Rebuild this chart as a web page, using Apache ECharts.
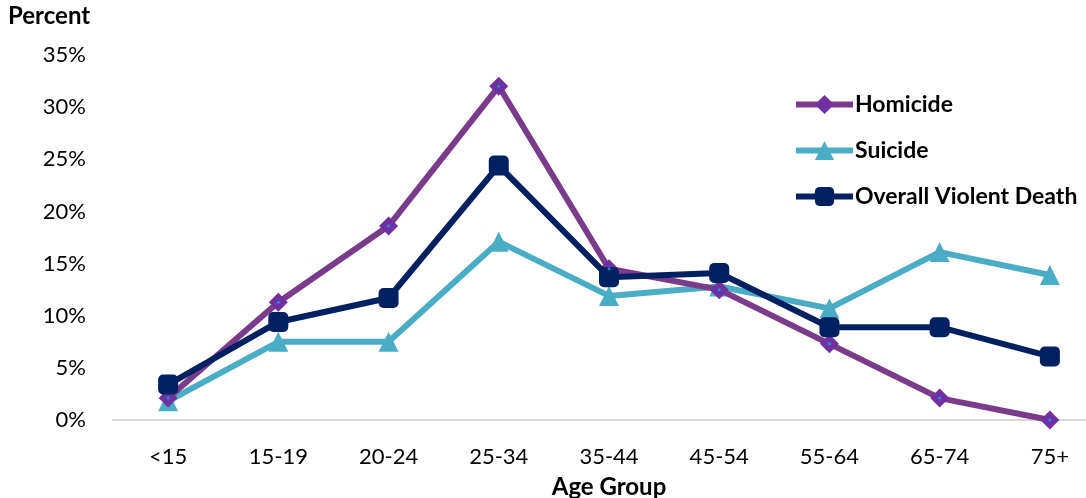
<!DOCTYPE html>
<html>
<head>
<meta charset="utf-8">
<script src="https://cdn.jsdelivr.net/npm/echarts@6/dist/echarts.min.js"></script>
<style>html,body{margin:0;padding:0;background:#fff}#c{width:1086px;height:498px}</style>
</head>
<body>
<div id="c"></div>
<script>
const categories = ['<15','15-19','20-24','25-34','35-44','45-54','55-64','65-74','75+'];
const homicide = [2.1, 11.3, 18.6, 32.0, 14.5, 12.5, 7.3, 2.1, 0.0];
const suicide = [1.8, 7.5, 7.5, 17.1, 11.9, 12.8, 10.7, 16.1, 13.9];
const overall = [3.4, 9.4, 11.7, 24.4, 13.7, 14.1, 8.9, 8.9, 6.1];
const yTicks = [0, 5, 10, 15, 20, 25, 30, 35];

const FONT = 'Lato, "Open Sans", sans-serif';
const chart = echarts.init(document.getElementById('c'), null, {renderer: 'canvas'});
chart.setOption({
  animation: false,
  backgroundColor: '#fff',
  grid: {left: 113, top: 55, width: 992, height: 365, outerBoundsMode: 'none', containLabel: false},
  legend: {
    orient: 'vertical',
    left: 793, top: 93,
    padding: 0,
    itemGap: 23,
    itemWidth: 57, itemHeight: 24,
    lineStyle: {width: 6},
    textStyle: {fontFamily: FONT, fontWeight: 'bold', fontSize: 23, color: '#000', padding: [0,0,0,-3]},
    data: ['Homicide', 'Suicide', 'Overall Violent Death']
  },
  xAxis: {
    type: 'category',
    data: categories,
    boundaryGap: true,
    name: 'Age Group',
    nameLocation: 'middle',
    nameGap: 55,
    nameTextStyle: {fontFamily: FONT, fontWeight: 'bold', fontSize: 24, color: '#000'},
    axisLine: {lineStyle: {color: '#d9d9d9', width: 2}},
    axisTick: {show: false},
    axisLabel: {fontFamily: FONT, fontSize: 22, color: '#000', margin: 26}
  },
  yAxis: {
    type: 'value',
    min: yTicks[0], max: yTicks[yTicks.length - 1], interval: 5,
    name: 'Percent',
    nameLocation: 'end',
    nameGap: 27,
    nameTextStyle: {fontFamily: FONT, fontWeight: 'bold', fontSize: 24, color: '#000', align: 'left', padding: [0, 0, 0, -105]},
    splitLine: {show: false},
    axisLine: {show: false},
    axisTick: {show: false},
    axisLabel: {fontFamily: FONT, fontSize: 22, color: '#000', margin: 27, formatter: v => v + '%'}
  },
  series: [
    {
      name: 'Homicide', type: 'line', data: homicide,
      lineStyle: {color: '#7b3b8b', width: 6},
      itemStyle: {color: '#7030a0'},
      symbol: 'diamond', symbolSize: 19, z: 3
    },
    {
      name: 'Suicide', type: 'line', data: suicide,
      lineStyle: {color: '#4bacc6', width: 6},
      itemStyle: {color: '#4bacc6'},
      symbol: 'triangle', symbolSize: 20, z: 2
    },
    {
      name: 'Overall Violent Death', type: 'line', data: overall,
      lineStyle: {color: '#002060', width: 6},
      itemStyle: {color: '#002060'},
      symbol: 'roundRect', symbolSize: 20, z: 4
    },
    {
      type: 'scatter', data: homicide, symbol: 'circle', symbolSize: 3,
      itemStyle: {color: '#00b0f0'}, z: 5, silent: true
    }
  ]
});
</script>
</body>
</html>
